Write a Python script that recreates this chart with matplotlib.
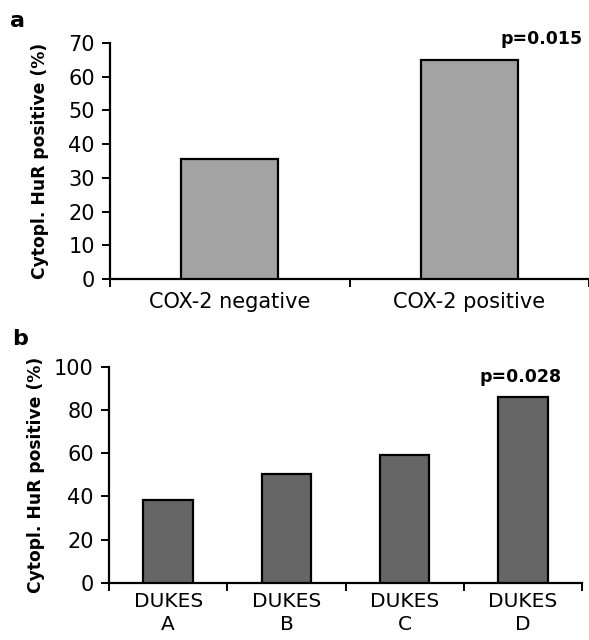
import matplotlib
matplotlib.use("Agg")
import matplotlib.pyplot as plt

# ---- data ----
cats_a = ["COX-2 negative", "COX-2 positive"]
vals_a = [35.7, 64.9]
p_a = "p=0.015"

cats_b = ["DUKES\nA", "DUKES\nB", "DUKES\nC", "DUKES\nD"]
vals_b = [38.3, 50.3, 59.3, 86.1]
p_b = "p=0.028"

yticks_a = [0, 10, 20, 30, 40, 50, 60, 70]
yticks_b = [0, 20, 40, 60, 80, 100]
ylabel = "Cytopl. HuR positive (%)"

plt.rcParams['font.family'] = ['DejaVu Sans']

fig = plt.figure(figsize=(5.89, 6.40), dpi=100)

W, H = 589.0, 640.0
ax_a = fig.add_axes([110 / W, 1 - 279 / H, (589 - 110) / W, (279 - 43) / H])
ax_b = fig.add_axes([109 / W, 1 - 582.7 / H, (582 - 109) / W, (582.7 - 366.7) / H])


def style(ax, cats, vals, color, yticks, width, label_x, lsp, xfs, xpad):
    n = len(cats)
    pos = list(range(n))
    ax.bar(pos, vals, width=width, color=color, edgecolor="black", linewidth=1.6, zorder=3)
    ax.set_xlim(-0.5, n - 0.5)
    ax.set_ylim(yticks[0], yticks[-1])
    for s in ("top", "right"):
        ax.spines[s].set_visible(False)
    for s in ("left", "bottom"):
        ax.spines[s].set_linewidth(1.6)
    ax.set_yticks(yticks)
    ax.set_yticklabels([str(t) for t in yticks], fontsize=15)
    ax.tick_params(axis="y", direction="out", length=6, width=1.4, pad=5)
    ax.set_xticks([i - 0.5 for i in range(n + 1)])
    ax.set_xticklabels([])
    ax.tick_params(axis="x", which="major", direction="out", length=6, width=1.4)
    ax.set_xticks(pos, minor=True)
    ax.set_xticklabels(cats, minor=True, fontsize=xfs)
    ax.tick_params(axis="x", which="minor", length=0, pad=xpad)
    for t in ax.get_xticklabels(minor=True):
        t.set_linespacing(lsp)
    ax.set_ylabel(ylabel, fontsize=12.3, fontweight="bold")
    ax.yaxis.set_label_coords(label_x, 0.5)


style(ax_a, cats_a, vals_a, "#a3a3a3", yticks_a, 0.405, -0.128, 1.2, 15, 9)
style(ax_b, cats_b, vals_b, "#666666", yticks_b, 0.42, -0.136, 1.25, 14.5, 7)

ax_a.text(1.30, 71.2, p_a, ha="center", va="center", fontsize=12.5,
          fontweight="bold", clip_on=False)
ax_b.text(2.98, 95.4, p_b, ha="center", va="center", fontsize=12.5,
          fontweight="bold", clip_on=False)

fig.text(10 / W, 1 - 21 / H, "a", ha="left", va="center", fontsize=16, fontweight="bold")
fig.text(12 / W, 1 - 339 / H, "b", ha="left", va="center", fontsize=16, fontweight="bold")

fig.savefig("out.png", dpi=100)
